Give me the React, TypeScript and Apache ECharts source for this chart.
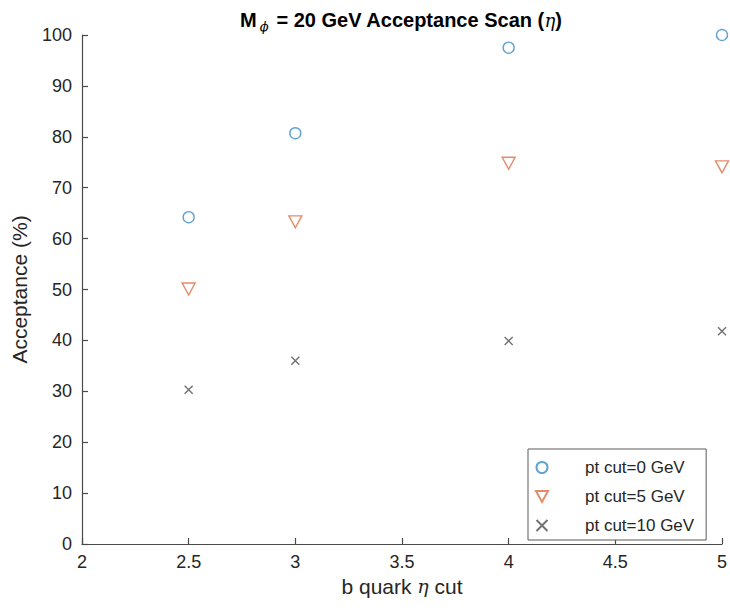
import React, { useEffect, useRef } from "react";
import * as echarts from "echarts";

// b-quark |eta| cut values scanned
const etaCuts: number[] = [2.5, 3, 4, 5];

// Acceptance (%) for each pt cut
const accPt0: number[] = [64.2, 80.7, 97.5, 100.0];
const accPt5: number[] = [50.1, 63.3, 74.8, 74.1];
const accPt10: number[] = [30.3, 36.0, 39.9, 41.8];

const seriesNames: string[] = ["pt cut=0 GeV", "pt cut=5 GeV", "pt cut=10 GeV"];

const FONT = "'Liberation Sans', Arial, Helvetica, sans-serif";
const TEXT = "#262626";
const AXIS = "#4a4a4a";

const BLUE = "#3a8cc6";
const ORANGE = "#de6e45";
const GREY = "#4d4d4d";

const DOWN_TRIANGLE = "path://M0,0L12,0L6,11Z";
const CROSS = "path://M0,0L10,10M10,0L0,10";

function pairs(xs: number[], ys: number[]): number[][] {
  return xs.map((x, i) => [x, ys[i]]);
}

export default function App() {
  const ref = useRef<HTMLDivElement>(null);

  useEffect(() => {
    if (!ref.current) return;
    const chart = echarts.init(ref.current, undefined, { renderer: "svg" });

    chart.setOption({
      animation: false,
      backgroundColor: "#ffffff",
      textStyle: { fontFamily: FONT, color: TEXT },
      title: {
        text: "{b|M}{sub|\u03d5}{b| = 20 GeV Acceptance Scan (}{eta|\u03b7}{b|)}",
        left: 396,
        top: 2,
        textAlign: "center",
        textStyle: {
          rich: {
            b: { fontFamily: FONT, fontSize: 20, fontWeight: "bold", color: "#000", lineHeight: 26, verticalAlign: "middle" },
            sub: { fontFamily: "'DejaVu Serif', serif", fontSize: 13, fontStyle: "italic", fontWeight: "normal", color: "#000", lineHeight: 26, verticalAlign: "bottom", padding: [18, 2, 0, 3] },
            eta: { fontFamily: "'DejaVu Serif', serif", fontSize: 18, fontStyle: "italic", fontWeight: "normal", color: "#000", lineHeight: 26, verticalAlign: "middle" },
          },
        },
      },
      grid: { left: 82, right: 3, top: 35, bottom: 67, containLabel: false },
      legend: {
        orient: "vertical",
        left: 528,
        top: 449,
        padding: [10, 12, 6, 7],
        itemWidth: 14,
        itemHeight: 11,
        itemGap: 12,
        backgroundColor: "#ffffff",
        borderColor: "#5a5a5a",
        borderWidth: 1,
        borderRadius: 0,
        textStyle: { fontFamily: FONT, fontSize: 17, color: TEXT, padding: [0, 0, 0, 31] },
        data: [
          { name: seriesNames[0], icon: "circle" },
          { name: seriesNames[1], icon: DOWN_TRIANGLE },
          { name: seriesNames[2], icon: CROSS },
        ],
      },
      xAxis: {
        type: "value",
        min: 2,
        max: 5,
        interval: 0.5,
        name: "{a|b quark }{e|\u03b7}{a| cut}",
        nameLocation: "middle",
        nameGap: 30,
        nameTextStyle: {
          rich: {
            a: { fontFamily: FONT, fontSize: 21, color: TEXT },
            e: { fontFamily: "'DejaVu Serif', serif", fontSize: 19, fontStyle: "italic", color: TEXT },
          },
        },
        axisLine: { show: true, onZero: false, lineStyle: { color: AXIS, width: 1.2 } },
        axisTick: { show: true, inside: true, length: 6, lineStyle: { color: AXIS, width: 1.2 } },
        axisLabel: { fontFamily: FONT, fontSize: 18, color: TEXT, margin: 9 },
        splitLine: { show: false },
      },
      yAxis: {
        type: "value",
        min: 0,
        max: 100,
        interval: 10,
        name: "Acceptance (%)",
        nameLocation: "middle",
        nameGap: 52,
        nameTextStyle: { fontFamily: FONT, fontSize: 21, color: TEXT },
        axisLine: { show: true, onZero: false, lineStyle: { color: AXIS, width: 1.2 } },
        axisTick: { show: true, inside: true, length: 6, lineStyle: { color: AXIS, width: 1.2 } },
        axisLabel: { fontFamily: FONT, fontSize: 18, color: TEXT, margin: 10 },
        splitLine: { show: false },
      },
      series: [
        {
          name: seriesNames[0],
          type: "scatter",
          symbol: "circle",
          symbolSize: 11,
          data: pairs(etaCuts, accPt0),
          itemStyle: { color: "rgba(255,255,255,0)", borderColor: BLUE, borderWidth: 1.4 },
        },
        {
          name: seriesNames[1],
          type: "scatter",
          symbol: "triangle",
          symbolRotate: 180,
          symbolSize: [13, 12],
          data: pairs(etaCuts, accPt5),
          itemStyle: { color: "rgba(255,255,255,0)", borderColor: ORANGE, borderWidth: 1.4 },
        },
        {
          name: seriesNames[2],
          type: "scatter",
          symbol: CROSS,
          symbolSize: 8,
          data: pairs(etaCuts, accPt10),
          itemStyle: { color: "rgba(255,255,255,0)", borderColor: GREY, borderWidth: 1.4 },
        },
      ],
    });

    return () => chart.dispose();
  }, []);

  return (
    <div
      ref={ref}
      style={{ position: "absolute", left: 0, top: 0, width: 730, height: 611 }}
    />
  );
}
